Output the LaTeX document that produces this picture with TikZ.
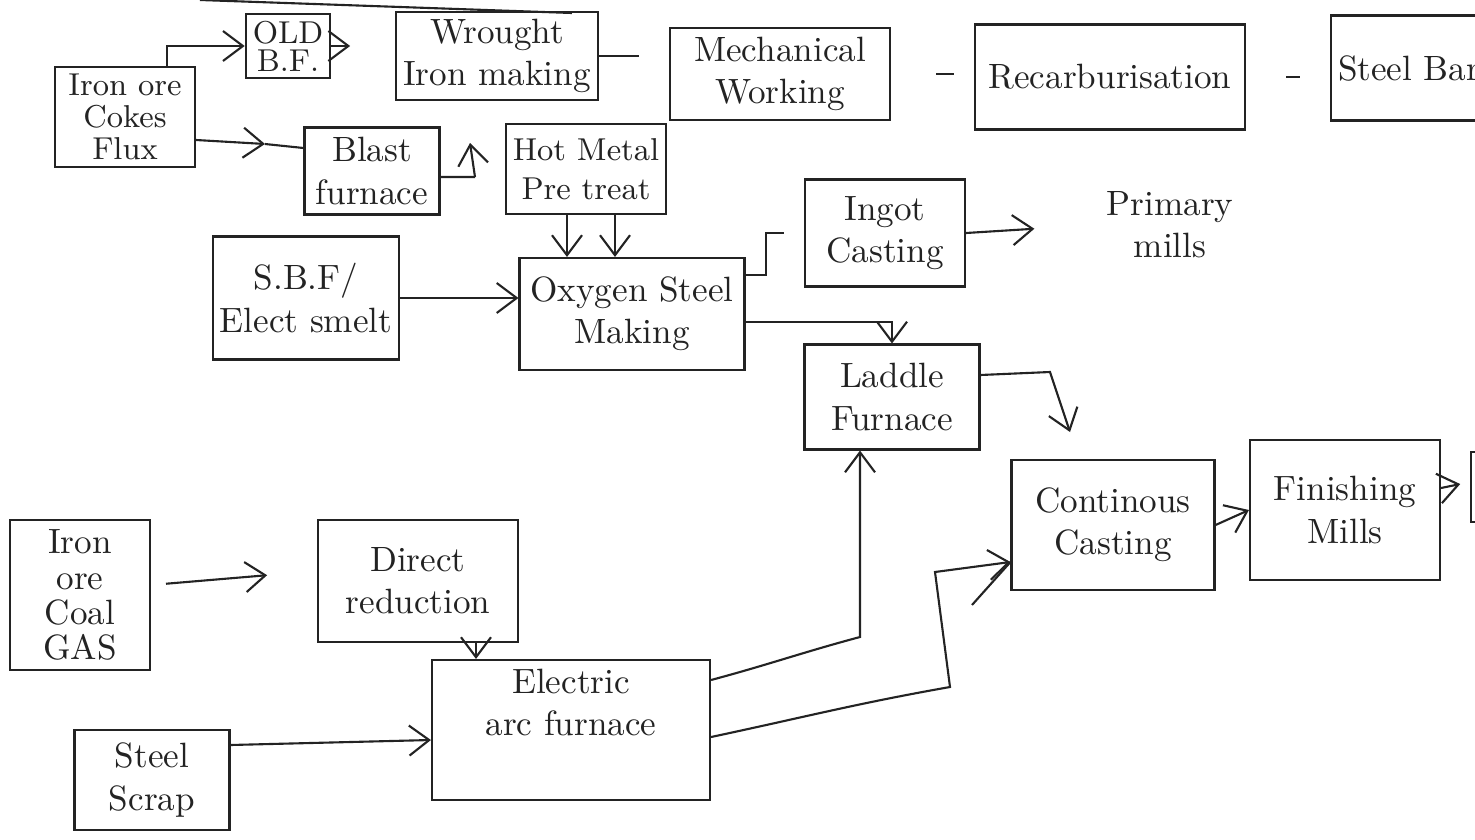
\documentclass[tikz,border=0pt]{standalone}
\usepackage{tikz}
\usetikzlibrary{arrows.meta, positioning}
\definecolor{ink}{RGB}{35, 35, 35}

\tikzset{
    stage/.style={draw=ink, line width=0.6pt, align=center, inner sep=2pt, text=ink},
    flow/.style={draw=ink, line width=0.6pt, -{Straight Barb[length=2mm, width=3mm]}},
    wire/.style={draw=ink, line width=0.6pt}
}

\begin{document}
\begin{tikzpicture}
    \useasboundingbox[fill=white] (0,0) rectangle (14.75,8.39);

    \draw[wire] (2.0,8.39) -- (5.72,8.26);

    % top row
    \node[stage, minimum width=1.40cm, minimum height=0.90cm, font=\small] (oreA) at (1.25,7.22) {Iron ore\\[-2pt]Cokes\\[-2pt]Flux};
    \node[stage, minimum width=0.83cm, minimum height=0.58cm, font=\small] (oldbf) at (2.88,7.93) {OLD\\[-3pt]B.F.};
    \node[stage, minimum width=1.95cm, minimum height=0.88cm] (wrought) at (4.97,7.83) {Wrought\\Iron making};
    \node[stage, minimum width=2.20cm, minimum height=0.92cm] (mech) at (7.80,7.65) {Mechanical\\Working};
    \node[stage, minimum width=2.70cm, minimum height=1.05cm] (recarb) at (11.10,7.62) {Recarburisation};
    \node[stage, anchor=west, minimum height=1.05cm, text width=1.8cm, align=left] (steelbar) at (13.30,7.71) {Steel Bar};

    \node[stage, minimum width=1.35cm, minimum height=0.87cm] (blast) at (3.72,6.68) {Blast\\furnace};
    \node[stage, minimum width=1.57cm, minimum height=0.90cm, font=\small] (hotmetal) at (5.86,6.70) {Hot Metal\\Pre treat};

    % oxygen route
    \node[stage, minimum width=1.68cm, minimum height=1.23cm] (sbf) at (3.06,5.41) {S.B.F/\\Elect smelt};
    \node[stage, minimum width=2.25cm, minimum height=1.12cm] (oxygen) at (6.32,5.25) {Oxygen Steel\\Making};
    \node[stage, minimum width=1.60cm, minimum height=1.07cm] (ingot) at (8.85,6.06) {Ingot\\Casting};
    \node[align=center, text=ink] (primary) at (11.70,6.14) {Primary\\mills};
    \node[stage, minimum width=1.75cm, minimum height=1.05cm] (laddle) at (8.92,4.42) {Laddle\\Furnace};
    \node[stage, minimum width=2.03cm, minimum height=1.30cm] (contcast) at (11.13,3.14) {Continous\\Casting};
    \node[stage, minimum width=1.90cm, minimum height=1.40cm] (finish) at (13.45,3.29) {Finishing\\Mills};
    \node[stage, anchor=west, minimum width=1cm, minimum height=0.70cm] (nextbox) at (14.70,3.52) {};

    % electric route
    \node[stage, minimum width=1.40cm, minimum height=1.50cm] (oreB) at (0.80,2.44) {Iron\\[-2pt]ore\\[-2pt]Coal\\[-2pt]GAS};
    \node[stage, minimum width=2.00cm, minimum height=1.22cm] (direct) at (4.18,2.58) {Direct\\reduction};
    \node[stage, minimum width=2.78cm, minimum height=1.40cm, text depth=0.55cm] (eaf) at (5.71,1.09) {Electric\\arc furnace};
    \node[stage, minimum width=1.55cm, minimum height=1.00cm] (scrap) at (1.52,0.59) {Steel\\Scrap};

    \coordinate (oreArrow) at (2.65,6.95);
    \coordinate (bfTurn) at (4.75,6.62);
    \coordinate (bfTip) at (4.70,6.96);
    \coordinate (ldTurn) at (10.50,4.67);
    \coordinate (ldTip) at (10.70,4.07);
    \coordinate (eafUp) at (8.60,2.02);
    \coordinate (eafLow) at (9.50,1.52);
    \coordinate (eafTop) at (9.35,2.67);
    \coordinate (castStroke) at (9.72,2.34);

    \draw[flow] ([xshift=0.42cm]oreA.north) |- (oldbf.west);
    \draw[flow, shorten >=0.45cm] (oldbf.east) -- (oldbf.east -| wrought.west);
    \draw[wire, shorten >=0.3cm] (wrought.east) -- (wrought.east -| mech.west);
    \draw[wire, shorten <=0.45cm, shorten >=0.2cm] (mech.east) -- (mech.east -| recarb.west);
    \draw[wire, shorten <=0.4cm, shorten >=0.3cm] (recarb.east) -- (recarb.east -| steelbar.west);

    \draw[flow] ([yshift=-0.23cm]oreA.east) -- (oreArrow);
    \draw[wire] (oreArrow) -- ([yshift=0.23cm]blast.west);
    \draw[wire] ([yshift=-0.06cm]blast.east) -- (bfTurn);
    \draw[flow] (bfTurn) -- (bfTip);
    \draw[flow] ([xshift=-0.19cm]hotmetal.south) -- ([xshift=-0.19cm]hotmetal.south |- oxygen.north);
    \draw[flow] ([xshift=0.29cm]hotmetal.south) -- ([xshift=0.29cm]hotmetal.south |- oxygen.north);

    \draw[flow] (sbf.east) -- (sbf.east -| oxygen.west);
    \draw[wire, shorten >=0.2cm] ([yshift=0.39cm]oxygen.east) -- ++(0.2,0) |- (ingot.west);
    \draw[flow] ([yshift=-0.08cm]oxygen.east) -| (laddle.north);
    \draw[flow, shorten >=0.6cm] (ingot.east) -- (primary.west);
    \draw[flow] ([yshift=0.22cm]laddle.east) -- (ldTurn) -- (ldTip);
    \draw[flow] (contcast.east) -- (finish.west);
    \draw[flow, shorten >=0.1cm] ([yshift=0.22cm]finish.east) -- ([yshift=0.05cm]nextbox.west);

    \draw[flow, shorten <=0.15cm, shorten >=0.5cm] ([yshift=0.1cm]oreB.east) -- ([yshift=0.1cm]direct.west);
    \draw[flow] ([xshift=0.58cm]direct.south) -- ([xshift=0.58cm]direct.south |- eaf.north);
    \draw[flow] ([yshift=0.35cm]scrap.east) -- ([yshift=-0.10cm]eaf.west);
    \draw[flow] ([yshift=0.50cm]eaf.east) to[out=15, in=195] (eafUp) -- ([xshift=-0.32cm]laddle.south);
    \draw[flow] ([yshift=-0.07cm]eaf.east) to[out=12, in=190] (eafLow) -- (eafTop) -- ([yshift=-0.37cm]contcast.west);
    \draw[wire] (castStroke) -- ([yshift=-0.37cm]contcast.west);
\end{tikzpicture}
\end{document}
